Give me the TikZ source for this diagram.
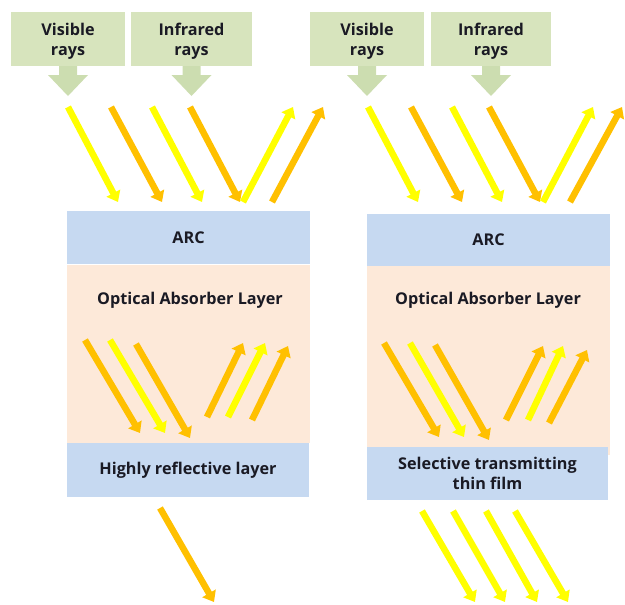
\documentclass[tikz,border=0pt]{standalone}
\usepackage{fontspec}
\setmainfont{Open Sans}
\usetikzlibrary{arrows.meta}
\definecolor{sky}{HTML}{C6D9F1}
\definecolor{peach}{HTML}{FDE9D9}
\definecolor{sage}{HTML}{D7E4BD}
\definecolor{sagedark}{HTML}{CCDDB0}
\definecolor{rayvis}{HTML}{FFFF00}
\definecolor{rayir}{HTML}{FFC000}
\definecolor{ink}{HTML}{1A1A24}

% a green source label with a downward pointer below it
\newcommand\raysource[4]{% name, left x, right x, text
  \fill[sage] (#2,12) rectangle (#3,66);
  \node[txt] (#1) at ({(#2+#3)/2},41) {#4};
  \fill[sagedark] ({(#2+#3)/2-9},66) -- ({(#2+#3)/2-9},75) -- ({(#2+#3)/2-20},75)
     -- ({(#2+#3)/2},96) -- ({(#2+#3)/2+20},75) -- ({(#2+#3)/2+9},75)
     -- ({(#2+#3)/2+9},66) -- cycle;
}

\begin{document}
\begin{tikzpicture}[x=1pt,y=-1pt,
  txt/.style={font=\fontsize{16.2}{20}\selectfont\bfseries, text=ink, align=center, inner sep=0pt},
  layer/.style={txt, fill=sky},
  absorber/.style={fill=peach, inner sep=0pt},
  ray/.style={line width=6.5pt, -{Triangle[length=10pt,width=15pt]}},
  vis/.style={ray, draw=rayvis},
  ir/.style={ray, draw=rayir}]
\useasboundingbox (0,0) rectangle (625,605);

% ---------- sources ----------
\raysource{visL}{11}{125}{Visible\\rays}
\raysource{irL}{131}{252}{Infrared\\rays}
\raysource{visR}{310}{424}{Visible\\rays}
\raysource{irR}{431}{551}{Infrared\\rays}

% ---------- left stack ----------
\node[absorber, minimum width=243pt, minimum height=178pt] (absL) at (188.5,354) {};
\node[layer, minimum width=243pt, minimum height=53pt] (arcL) at (188.5,237.5) {ARC};
\node[txt] (absLtxt) at (190,300) {Optical Absorber Layer};
\node[layer, minimum width=242pt, minimum height=54pt] (refL) at (188,470) {Highly reflective layer};

% ---------- right stack ----------
\node[absorber, minimum width=243pt, minimum height=189pt] (absR) at (488.5,360.5) {};
\node[layer, minimum width=243pt, minimum height=52pt] (arcR) at (488.5,239.5) {ARC};
\node[txt] (absRtxt) at (488,300) {Optical Absorber Layer};
\node[layer, minimum width=241pt, minimum height=53pt] (selR) at (487.5,473.5) {Selective transmitting\\thin film};

% ---------- incoming and reflected rays, left ----------
\coordinate (a1) at (68,107);  \coordinate (b1) at (118,202);
\coordinate (a2) at (111,107); \coordinate (b2) at (162,202);
\coordinate (a3) at (152,107); \coordinate (b3) at (202,202);
\coordinate (a4) at (190,107); \coordinate (b4) at (240,202);
\coordinate (a5) at (243,202); \coordinate (b5) at (293,107);
\coordinate (a6) at (272,202); \coordinate (b6) at (323,107);
\draw[vis] (a1) -- (b1);
\draw[ir]  (a2) -- (b2);
\draw[vis] (a3) -- (b3);
\draw[ir]  (a4) -- (b4);
\draw[vis] (a5) -- (b5);
\draw[ir]  (a6) -- (b6);

% inside the absorber, left
\coordinate (c1) at (85,340);  \coordinate (d1) at (140,433);
\coordinate (c2) at (110,340); \coordinate (d2) at (165,433);
\coordinate (c3) at (136,344); \coordinate (d3) at (190,438);
\coordinate (c4) at (207,417); \coordinate (d4) at (243,343);
\coordinate (c5) at (228,417); \coordinate (d5) at (265,343);
\coordinate (c6) at (252,420); \coordinate (d6) at (288,346);
\draw[ir]  (c1) -- (d1);
\draw[vis] (c2) -- (d2);
\draw[ir]  (c3) -- (d3);
\draw[ir]  (c4) -- (d4);
\draw[vis] (c5) -- (d5);
\draw[ir]  (c6) -- (d6);

% leaving below, left
\coordinate (e1) at (160,508); \coordinate (f1) at (214,602);
\draw[ir] (e1) -- (f1);

% ---------- incoming and reflected rays, right ----------
\coordinate (g1) at (368,107); \coordinate (h1) at (418,202);
\coordinate (g2) at (411,107); \coordinate (h2) at (462,202);
\coordinate (g3) at (452,107); \coordinate (h3) at (502,202);
\coordinate (g4) at (489,107); \coordinate (h4) at (540,202);
\coordinate (g5) at (543,202); \coordinate (h5) at (593,107);
\coordinate (g6) at (570,202); \coordinate (h6) at (622,107);
\draw[vis] (g1) -- (h1);
\draw[ir]  (g2) -- (h2);
\draw[vis] (g3) -- (h3);
\draw[ir]  (g4) -- (h4);
\draw[vis] (g5) -- (h5);
\draw[ir]  (g6) -- (h6);

% inside the absorber, right
\coordinate (i1) at (384,343); \coordinate (j1) at (439,437);
\coordinate (i2) at (410,343); \coordinate (j2) at (464,437);
\coordinate (i3) at (435,345); \coordinate (j3) at (489,440);
\coordinate (i4) at (506,420); \coordinate (j4) at (543,346);
\coordinate (i5) at (528,420); \coordinate (j5) at (563,346);
\coordinate (i6) at (549,423); \coordinate (j6) at (587,350);
\draw[ir]  (i1) -- (j1);
\draw[vis] (i2) -- (j2);
\draw[ir]  (i3) -- (j3);
\draw[ir]  (i4) -- (j4);
\draw[vis] (i5) -- (j5);
\draw[ir]  (i6) -- (j6);

% transmitted below, right
\coordinate (k1) at (422,511); \coordinate (l1) at (475,602);
\coordinate (k2) at (453,511); \coordinate (l2) at (505,602);
\coordinate (k3) at (486,511); \coordinate (l3) at (537,602);
\coordinate (k4) at (515,511); \coordinate (l4) at (568,602);
\draw[vis] (k1) -- (l1);
\draw[vis] (k2) -- (l2);
\draw[vis] (k3) -- (l3);
\draw[vis] (k4) -- (l4);
\end{tikzpicture}
\end{document}
